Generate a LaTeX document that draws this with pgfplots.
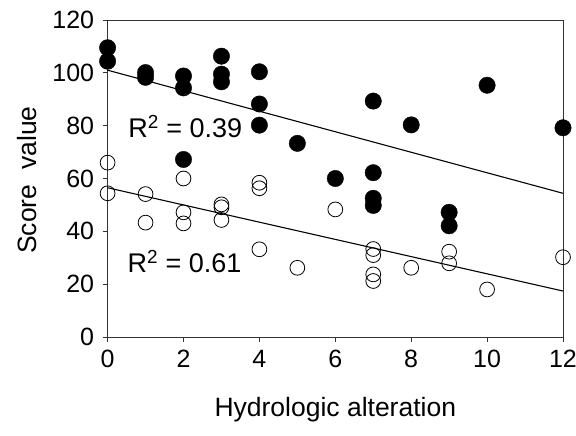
\documentclass[border=0pt]{standalone}
\usepackage{fontspec}
\setmainfont{Liberation Sans}
\usepackage{pgfplots}
\pgfplotsset{compat=1.18}
\begin{document}
\fontsize{25}{29}\selectfont
\begin{tikzpicture}
\path[use as bounding box] (-107.6pt,-99pt) rectangle (468.4pt,337pt);
\begin{axis}[
  at={(0,0)}, anchor=south west,
  scale only axis, width=455.4pt, height=317pt,
  xmin=0, xmax=12, ymin=0, ymax=120,
  xtick={0,2,...,12}, ytick={0,20,...,120},
  tick align=outside, tick pos=left, major tick length=5pt,
  /pgf/number format/assume math mode=true,
  ticklabel style={font=\fontsize{25}{29}\selectfont},
  axis line style={line width=0.8pt, black!80},
  every tick/.style={line width=0.8pt, black!80},
  clip=false,
  xlabel={Hydrologic alteration},
  ylabel={Score\ \ value},
  label style={font=\fontsize{26.5}{30}\selectfont},
  xlabel style={at={(axis description cs:0.5,-0.23)}, anchor=center},
  ylabel style={at={(axis description cs:-0.176,0.495)}, anchor=center},
]
% filled (upper) series
\addplot[only marks, mark=*, mark size=8.2pt, mark options={fill=black, draw=black}] coordinates {
(0,109.5) (0,104.4)
(1,100.1) (1,98.3)
(2,98.8) (2,94.3) (2,67.2)
(3,106.3) (3,99.5) (3,96.6)
(4,100.4) (4,88.2) (4,80.2)
(5,73.3)
(6,60.0)
(7,89.3) (7,62.2) (7,52.5) (7,49.8)
(8,80.3)
(9,47.2) (9,42.1)
(10,95.3)
(12,79.2)
};
% open (lower) series
\addplot[only marks, mark=o, mark size=7.4pt, mark options={draw=black, line width=0.8pt}] coordinates {
(0,66.0) (0,54.4)
(1,54.1) (1,43.3)
(2,60.0) (2,47.2) (2,43.0)
(3,50.2) (3,49.1) (3,44.3)
(4,58.4) (4,56.3) (4,33.2)
(5,26.2)
(6,48.3)
(7,33.3) (7,31.0) (7,23.7) (7,21.2)
(8,26.2)
(9,32.3) (9,27.9)
(10,18.0)
(12,30.2)
};
\addplot[black, line width=1.1pt] coordinates {(0,101) (12,54.4)};
\addplot[black, line width=1.1pt] coordinates {(0,56.5) (12,17.4)};
\node[anchor=base west, inner sep=0pt, font=\fontsize{27}{31}\selectfont] at (axis cs:0.54,75.6) {R\textsuperscript{2} = 0.39};
\node[anchor=base west, inner sep=0pt, font=\fontsize{27}{31}\selectfont] at (axis cs:0.52,24.3) {R\textsuperscript{2} = 0.61};
\end{axis}
\end{tikzpicture}
\end{document}
